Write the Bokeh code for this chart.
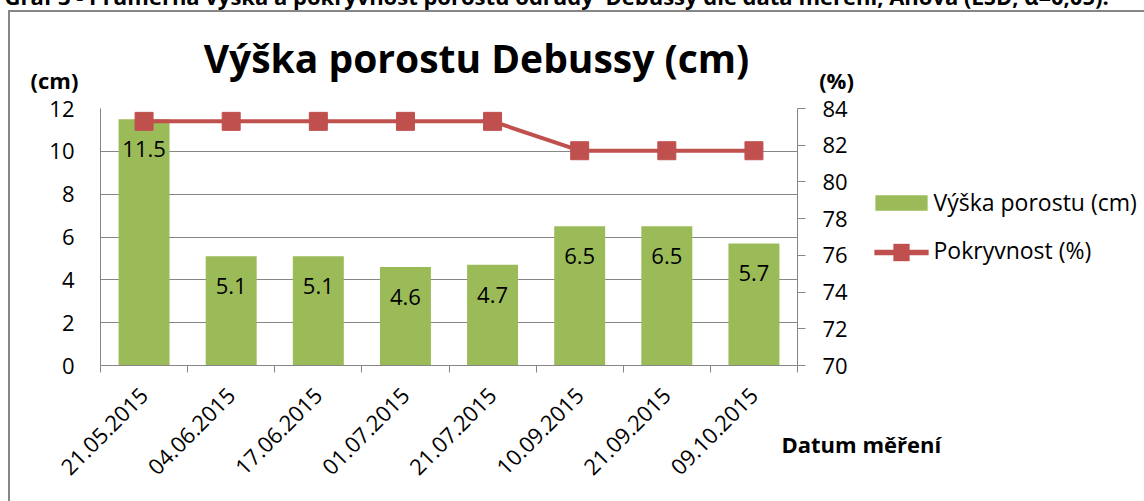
import numpy as np
from bokeh.plotting import figure
from bokeh.models import (Range1d, LinearAxis, FixedTicker, Label,
                          ColumnDataSource, Grid)
from bokeh.embed import file_html
from bokeh.resources import INLINE
from bokeh.core.properties import value

# ---------------- data ----------------
categories = ["21.05.2015", "04.06.2015", "17.06.2015", "01.07.2015",
              "21.07.2015", "10.09.2015", "21.09.2015", "09.10.2015"]
vyska = [11.5, 5.1, 5.1, 4.6, 4.7, 6.5, 6.5, 5.7]
pokryvnost = [83.3, 83.3, 83.3, 83.3, 83.3, 81.7, 81.7, 81.7]
left_ticks = [0, 2, 4, 6, 8, 10, 12]
right_ticks = [70, 72, 74, 76, 78, 80, 82, 84]

title_text = "Výška porostu Debussy (cm)"
caption_parts = ["Graf 3 - Průměrná výška a pokryvnost porostu odrůdy",
                 "Debussy dle data měření, Anova (LSD, α=0,05)."]
left_unit = "(cm)"
right_unit = "(%)"
x_title = "Datum měření"
legend_labels = ["Výška porostu (cm)", "Pokryvnost (%)"]

# ---------------- layout ----------------
VW, VH = 1144, 501          # visible page
T = 330                     # hidden extra canvas above the page (room for text panels)
FL, FR, FT, FB = 100, 797, 108, 365   # plot frame in page pixels
FONT = "Open Sans"
GRID = "#868686"
GREEN = "#9BBB59"
RED = "#C0504D"

n = len(categories)
xs = [i + 0.5 for i in range(n)]
src = ColumnDataSource(dict(x=xs, v=vyska, p=pokryvnost,
                            lbl=[f"{v:.1f}" for v in vyska]))

p = figure(width=VW, height=VH + T,
           x_range=Range1d(0, n), y_range=Range1d(left_ticks[0], left_ticks[-1]),
           output_backend="svg", toolbar_location=None,
           x_axis_location=None, y_axis_location=None,
           min_border_left=FL, min_border_right=VW - FR,
           min_border_top=FT + T, min_border_bottom=VH - FB,
           margin=(-T, 0, 0, 0))
p.xgrid.visible = False
p.ygrid.visible = False
p.outline_line_color = None
p.background_fill_color = "white"
p.border_fill_alpha = 0
# outer chart border (left and top edges visible in the reference)
p.styles = {"background": (f"linear-gradient({GRID},{GRID}) 8px {T + 10}px / 2px 100% no-repeat, "
                           f"linear-gradient({GRID},{GRID}) 8px {T + 10}px / 100% 2px no-repeat, white")}
p.extra_y_ranges = {"pct": Range1d(right_ticks[0], right_ticks[-1])}


def px2x(px):
    return (px - FL) * n / (FR - FL)


def py2y(py):
    return (FB - py) * (left_ticks[-1] - left_ticks[0]) / (FB - FT)


# grid
p.add_layout(Grid(dimension=1, ticker=FixedTicker(ticks=left_ticks),
                  grid_line_color=GRID, grid_line_width=1))

# axes
yl = LinearAxis(ticker=FixedTicker(ticks=left_ticks), axis_line_color=GRID,
                major_tick_line_color=None, major_tick_out=0, major_tick_in=0,
                minor_tick_line_color=None, major_label_standoff=26,
                major_label_text_font=FONT, major_label_text_font_size="22px",
                major_label_text_color="black")
p.add_layout(yl, "left")

yr = LinearAxis(y_range_name="pct", ticker=FixedTicker(ticks=right_ticks), axis_line_color=GRID,
                major_tick_line_color=GRID, major_tick_out=8, major_tick_in=0,
                minor_tick_line_color=None, major_label_standoff=17,
                major_label_text_font=FONT, major_label_text_font_size="22px",
                major_label_text_color="black")
p.add_layout(yr, "right")

xa = LinearAxis(ticker=FixedTicker(ticks=xs, minor_ticks=list(range(n + 1))),
                axis_line_color=GRID,
                major_tick_line_color=None, major_tick_out=0, major_tick_in=0,
                minor_tick_line_color=GRID, minor_tick_out=7, minor_tick_in=0,
                major_label_overrides={x: c for x, c in zip(xs, categories)},
                major_label_orientation=np.pi / 4, major_label_standoff=19,
                major_label_text_font=FONT, major_label_text_font_size="22px",
                major_label_text_color="black")
p.add_layout(xa, "below")

# bars
bars = p.vbar(x="x", top="v", width=0.585, source=src, fill_color=GREEN, line_color=None)
p.text(x="x", y="v", text="lbl", source=src, text_align="center", text_baseline="middle",
       y_offset=30, text_font=value(FONT), text_font_size="22px", text_color="black")

# line
ln = p.line(x="x", y="p", source=src, y_range_name="pct", line_color=RED, line_width=4)
sc = p.scatter(x="x", y="p", source=src, y_range_name="pct", marker="square", size=18,
               fill_color=RED, line_color=RED)


# free texts: placed in the (partly hidden) top panel, positioned in data space
def lab(px, py, text, size, bold=False, align="left"):
    shift = 0.38 * size          # bokeh's alphabetic anchor sits below the glyph baseline
    p.add_layout(Label(x=px2x(px), y=py2y(py - shift), text=text, text_align=align,
                       text_baseline="alphabetic", text_font=FONT, text_font_size=f"{size}px",
                       text_font_style="bold" if bold else "normal", text_color="black"),
                 "above")


# legend key boxes (filled label boxes, centred on a point); padding = (horizontal, vertical)
def key(px, py, pad_h, pad_v, color):
    p.add_layout(Label(x=px2x(px), y=py2y(py), text=" ", text_align="center",
                       text_baseline="middle", text_font=FONT, text_font_size="1px",
                       text_color=color, background_fill_color=color,
                       padding=(pad_h, pad_v)),
                 "above")


lab(476, 72, title_text, 39, bold=True, align="center")
lab(54, 88, left_unit, 22, bold=True, align="center")
lab(836, 88, right_unit, 22, bold=True, align="center")
lab(781, 452, x_title, 22, bold=True)
lab(4, 4, caption_parts[0], 22, bold=True)
lab(605, 4, caption_parts[1], 22, bold=True)

# legend
key(901, 202.5, 26, 7, GREEN)
key(901, 252, 27, 2, RED)
key(901, 252, 8, 8, RED)
lab(933, 210, legend_labels[0], 23)
lab(933, 258, legend_labels[1], 23)

open("out.html", "w").write(file_html(p, INLINE))
